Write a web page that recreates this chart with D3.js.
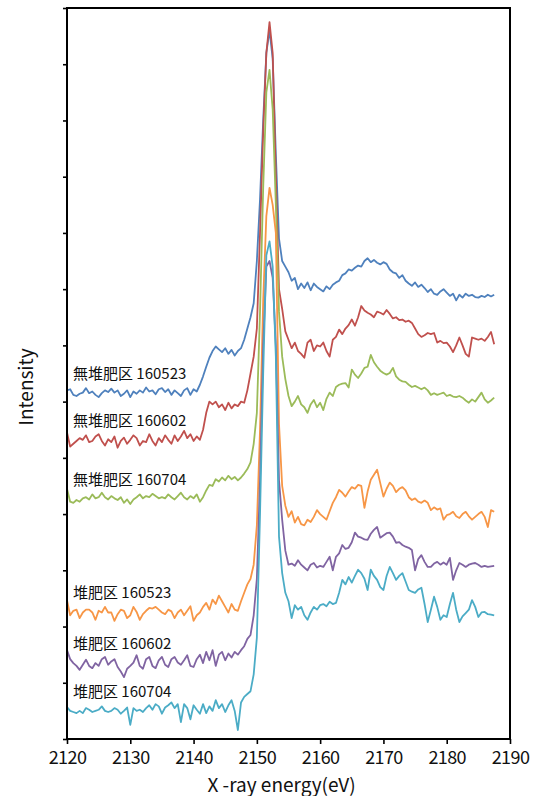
<!DOCTYPE html>
<html>
<head>
<meta charset="utf-8">
<script src="https://cdn.jsdelivr.net/npm/d3@7"></script>
<style>
  body { margin: 0; background: #fff; }
  text { font-family: "Noto Sans CJK JP", "Noto Sans", sans-serif; fill: #111; }
</style>
</head>
<body>
<div id="chart"></div>
<script>
// sample names, in drawing order
const labels = ["無堆肥区 160523", "無堆肥区 160602", "無堆肥区 160704",
                "堆肥区 160523", "堆肥区 160602", "堆肥区 160704"];
const colors = ["#4f81bd", "#c0504d", "#9bbb59", "#f79646", "#8064a2", "#4bacc6"];

// energy grid, 0.5 eV steps from 2120 to 2187.5
const energies = d3.range(2120, 2188, 0.5);
const xTicks = [2120, 2130, 2140, 2150, 2160, 2170, 2180, 2190];

// stacked intensities (offset, arbitrary units)
const s160523a = [
  6.2, 6.22, 6.12, 6.1, 6.14, 6.16, 6.24, 6.15, 6.18, 6.12,
  6.08, 6.15, 6.2, 6.17, 6.23, 6.16, 6.2, 6.1, 6.14, 6.2,
  6.08, 6.18, 6.14, 6.2, 6.16, 6.25, 6.18, 6.2, 6.13, 6.22,
  6.24, 6.17, 6.22, 6.12, 6.2, 6.15, 6.1, 6.2, 6.24, 6.12,
  6.22, 6.18,
  6.3, 6.45, 6.62, 6.78, 6.9, 6.98, 6.93, 6.88, 6.95, 6.85, 6.92, 6.82, 6.9, 6.95,
  7.1, 7.3, 7.5, 7.75, 8.5, 9.6, 11.0, 12.2, 12.6,
  12.1, 10.4, 8.9, 8.5, 8.4, 8.3, 8.15, 8.2, 8.0, 8.1,
  8.02, 8.12, 7.98, 8.1, 8.04, 8.0, 7.96, 8.05, 8.0, 8.08,
  8.12, 8.15, 8.25, 8.28, 8.35, 8.33, 8.38, 8.42, 8.4, 8.5,
  8.55, 8.48, 8.52, 8.47, 8.44, 8.48, 8.45, 8.35, 8.3, 8.28,
  8.2, 8.25, 8.15, 8.1, 8.06, 8.12, 8.04, 8.08, 8.02, 7.95,
  8.0, 7.92, 7.9, 7.96, 8.0, 7.94, 7.88, 7.92, 7.8, 7.9,
  7.85, 7.92, 7.88, 7.9, 7.86, 7.85, 7.88, 7.86, 7.9, 7.87, 7.9
];
const s160602a = [
  5.45, 5.2, 5.25, 5.3, 5.35, 5.32, 5.4, 5.28, 5.3, 5.38,
  5.42, 5.3, 5.22, 5.33, 5.28, 5.38, 5.18, 5.3, 5.36, 5.25,
  5.32, 5.4, 5.35, 5.22, 5.3, 5.28, 5.42, 5.3, 5.22, 5.35,
  5.28, 5.4, 5.32, 5.25, 5.4, 5.3, 5.38, 5.48, 5.35, 5.42,
  5.3, 5.38,
  5.32, 5.5, 5.8, 6.0, 5.95, 6.0, 5.9, 5.95, 5.85, 5.98, 5.88, 5.95, 5.92, 6.0,
  5.98, 6.2, 6.5, 6.8, 7.3, 9.0, 10.8, 12.2, 12.75,
  12.2, 10.0, 8.0, 7.65, 7.25, 7.1, 6.95, 7.05, 6.9, 6.85,
  6.78, 7.05, 7.1, 6.9, 7.0, 6.98, 7.05, 6.9, 6.8, 7.1,
  7.15, 7.28, 7.2, 7.3, 7.36, 7.46, 7.35, 7.5, 7.7, 7.62,
  7.58, 7.55, 7.5, 7.6, 7.58, 7.55, 7.63, 7.56, 7.48, 7.5,
  7.45, 7.46, 7.42, 7.44, 7.4, 7.3, 7.2, 7.15, 7.18, 7.22,
  7.2, 7.22, 7.05, 7.08, 7.04, 7.05, 6.98, 6.88, 7.0, 7.14,
  7.0, 6.85, 6.8, 7.14, 7.12, 7.1, 7.12, 7.08, 7.15, 7.24, 7.02
];
const s160704a = [
  4.45, 4.22, 4.2, 4.25, 4.22, 4.28, 4.3, 4.26, 4.35, 4.28,
  4.3, 4.38, 4.3, 4.26, 4.32, 4.28, 4.25, 4.3, 4.2, 4.26,
  4.18, 4.26, 4.3, 4.35, 4.28, 4.32, 4.3, 4.36, 4.32, 4.28,
  4.3, 4.28, 4.35, 4.3, 4.26, 4.32, 4.38, 4.3, 4.26, 4.32,
  4.28, 4.35,
  4.22, 4.3, 4.42, 4.52, 4.5, 4.62, 4.58, 4.65, 4.6, 4.68, 4.62, 4.66, 4.6, 4.65,
  4.72, 4.8, 4.92, 5.25, 5.8, 7.6, 9.8, 11.5, 11.9,
  11.2, 9.5, 7.6, 6.8, 6.4, 6.1, 5.92, 6.0, 6.1, 5.95,
  5.9, 5.8, 5.95, 6.03, 5.9, 5.98, 5.85, 6.05, 6.16, 6.1,
  6.26, 6.3, 6.32, 6.33, 6.25, 6.57, 6.48, 6.42, 6.5, 6.6,
  6.62, 6.83, 6.7, 6.62, 6.55, 6.51, 6.48, 6.51, 6.6, 6.45,
  6.39, 6.36, 6.35, 6.3, 6.26, 6.28, 6.25, 6.22, 6.25, 6.2,
  6.12, 6.15, 6.12, 6.14, 6.16, 6.1, 6.12, 6.09, 6.08, 6.1,
  6.07, 6.02, 5.98, 6.04, 6.0, 6.08, 6.16, 6.04, 5.98, 6.02, 6.07
];
const s160523b = [
  2.47, 2.2, 2.28, 2.3, 2.15, 2.25, 2.3, 2.3, 2.25, 2.12,
  2.28, 2.25, 2.35, 2.25, 2.25, 2.1, 2.22, 2.3, 2.28, 2.15,
  2.2, 2.35, 2.26, 2.12, 2.22, 2.28, 2.33, 2.32, 2.35, 2.3,
  2.25, 2.22, 2.3, 2.27, 2.15, 2.25, 2.3, 2.2, 2.28, 2.36,
  2.1, 2.2,
  2.25, 2.35, 2.42, 2.3, 2.48, 2.4, 2.55, 2.45, 2.35, 2.25, 2.4, 2.3, 2.28, 2.45,
  2.6, 2.75, 2.85, 3.1, 3.8, 5.5, 7.8, 9.3, 9.8,
  9.5, 9.0, 5.6, 4.5, 4.15, 3.95, 4.05, 3.85, 3.95, 3.82,
  3.8, 3.9, 3.86, 3.95, 4.07, 4.0, 3.95, 3.9, 4.05, 4.2,
  4.3, 4.43, 4.38, 4.31, 4.4, 4.48, 4.45, 4.52, 4.5, 4.11,
  4.4, 4.61, 4.7, 4.79, 4.55, 4.31, 4.45, 4.56, 4.5, 4.39,
  4.45, 4.48, 4.42, 4.3, 4.25, 4.28, 4.22, 4.2, 4.24, 4.2,
  4.07, 4.12, 4.08, 4.1, 3.9, 3.98, 4.0, 4.04, 3.96, 3.93,
  4.0, 4.04, 3.96, 3.9, 3.95, 4.0, 4.04, 3.95, 3.77, 4.07, 4.04
];
const s160602b = [
  1.58, 1.42, 1.35, 1.3, 1.23, 1.32, 1.41, 1.3, 1.26, 1.35,
  1.3, 1.42, 1.46, 1.32, 1.38, 1.42, 1.28, 1.2, 1.1, 1.25,
  1.3, 1.36, 1.49, 1.3, 1.25, 1.42, 1.46, 1.3, 1.26, 1.4,
  1.46, 1.32, 1.28, 1.42, 1.46, 1.36, 1.32, 1.4, 1.49, 1.3,
  1.28, 1.42,
  1.5, 1.35, 1.55, 1.4, 1.58, 1.3, 1.5, 1.55, 1.4, 1.52, 1.45, 1.55, 1.5, 1.58,
  1.65, 1.78, 1.85, 2.2, 2.85, 4.6, 7.0, 8.4, 8.5,
  8.2, 7.0, 4.6, 3.9, 3.35, 3.1, 3.12, 3.08, 3.18, 3.1,
  3.05, 3.0, 3.1, 3.13, 3.05, 3.08, 3.06, 3.15, 3.24, 3.0,
  3.24, 3.3, 3.45, 3.38, 3.4, 3.5, 3.67, 3.6, 3.58, 3.55,
  3.54, 3.65, 3.72, 3.77, 3.58, 3.62, 3.66, 3.67, 3.6, 3.49,
  3.5, 3.45, 3.42, 3.4, 3.36, 3.0, 3.2, 3.27, 3.15, 3.06,
  3.06, 3.12, 3.15, 3.1, 3.14, 3.1, 3.22, 2.83, 3.0, 3.13,
  3.1, 3.06, 3.1, 3.12, 3.13, 3.1, 3.06, 3.08, 3.06, 3.07, 3.08
];
const s160704b = [
  0.57, 0.5, 0.48, 0.46, 0.5, 0.46, 0.55, 0.52, 0.48, 0.5,
  0.52, 0.58, 0.5, 0.48, 0.5, 0.55, 0.52, 0.45, 0.5, 0.56,
  0.25, 0.55, 0.5, 0.52, 0.48, 0.55, 0.6, 0.52, 0.62, 0.58,
  0.45, 0.56, 0.6, 0.65, 0.55, 0.62, 0.3, 0.62, 0.55, 0.35,
  0.6, 0.52,
  0.45, 0.62, 0.46, 0.58, 0.5, 0.69, 0.55, 0.62, 0.48, 0.6, 0.69, 0.5, 0.16, 0.65,
  0.75, 0.8, 0.85, 1.15, 1.8, 4.0, 6.5, 8.6, 8.85,
  8.4, 6.8, 3.6, 2.95, 2.6, 2.45, 2.15, 2.38, 2.3, 2.35,
  2.2, 2.12, 2.25, 2.35, 2.3, 2.38, 2.4, 2.36, 2.44, 2.4,
  2.42, 2.6, 2.83, 2.75, 2.88, 2.78, 2.9, 3.01, 2.95, 2.85,
  2.65, 3.01, 2.9, 2.83, 2.7, 2.65, 2.9, 3.06, 2.95, 2.83,
  2.9, 2.95, 2.8, 2.65, 2.62, 2.6, 2.66, 2.69, 2.4, 2.08,
  2.3, 2.53, 2.35, 2.12, 2.2, 2.17, 2.4, 2.6, 2.3, 2.08,
  2.18, 2.24, 2.3, 2.47, 2.35, 2.17, 2.25, 2.26, 2.22, 2.21, 2.2
];

const seriesValues = [s160523a, s160602a, s160704a, s160523b, s160602b, s160704b];

const margin = { top: 8, right: 31, bottom: 57, left: 67 };
const width = 541 - margin.left - margin.right;
const height = 796 - margin.top - margin.bottom;

const svg = d3.select('#chart')
    .append('svg')
    .attr('width', width + margin.left + margin.right)
    .attr('height', height + margin.top + margin.bottom)
    .append('g')
    .attr('transform', `translate(${margin.left}, ${margin.top})`);

const x = d3.scaleLinear().domain([2120, 2190]).range([0, width]);
const y = d3.scaleLinear().domain([0, 13]).range([height, 0]);

// axes
const xAxis = svg.append('g')
    .attr('transform', `translate(0, ${height})`)
    .call(d3.axisBottom(x).tickValues(xTicks).tickSize(5).tickPadding(7).tickFormat(d3.format('d')));
xAxis.selectAll('text')
    .style('font-size', '18px')
    .style('letter-spacing', '-0.6px');

const yAxis = svg.append('g')
    .call(d3.axisLeft(y).tickValues(d3.range(0, 14)).tickSize(4).tickFormat(''));

svg.selectAll('.domain').remove();
svg.selectAll('.tick line').attr('stroke', '#000').attr('stroke-width', 1.6);

// lines
const line = d3.line()
    .x((d, i) => x(energies[i]))
    .y(d => y(d));

svg.selectAll('path.series')
    .data(seriesValues)
    .join('path')
    .attr('class', 'series')
    .attr('fill', 'none')
    .attr('stroke', (d, i) => colors[i])
    .attr('stroke-width', 1.8)
    .attr('stroke-linejoin', 'round')
    .attr('d', line);

// sample labels above each trace
svg.selectAll('text.label')
    .data(seriesValues)
    .join('text')
    .attr('class', 'label')
    .attr('x', 6)
    .attr('y', d => y(d3.mean(d.slice(0, 10))) - 19)
    .attr('dy', '0.35em')
    .style('font-size', '15px')
    .text((d, i) => labels[i]);

// frame
svg.append('rect')
    .attr('x', 0).attr('y', 0)
    .attr('width', width).attr('height', height)
    .attr('fill', 'none')
    .attr('stroke', '#000')
    .attr('stroke-width', 2);

// axis titles
svg.append('text')
    .attr('x', width / 2 - 7)
    .attr('y', height + 53)
    .attr('text-anchor', 'middle')
    .style('font-size', '19px')
    .text('X -ray energy(eV)');

svg.append('text')
    .attr('transform', `translate(${33 - margin.left}, ${387 - margin.top}) rotate(-90)`)
    .attr('text-anchor', 'middle')
    .style('font-size', '19px')
    .text('Intensity');
</script>
</body>
</html>
